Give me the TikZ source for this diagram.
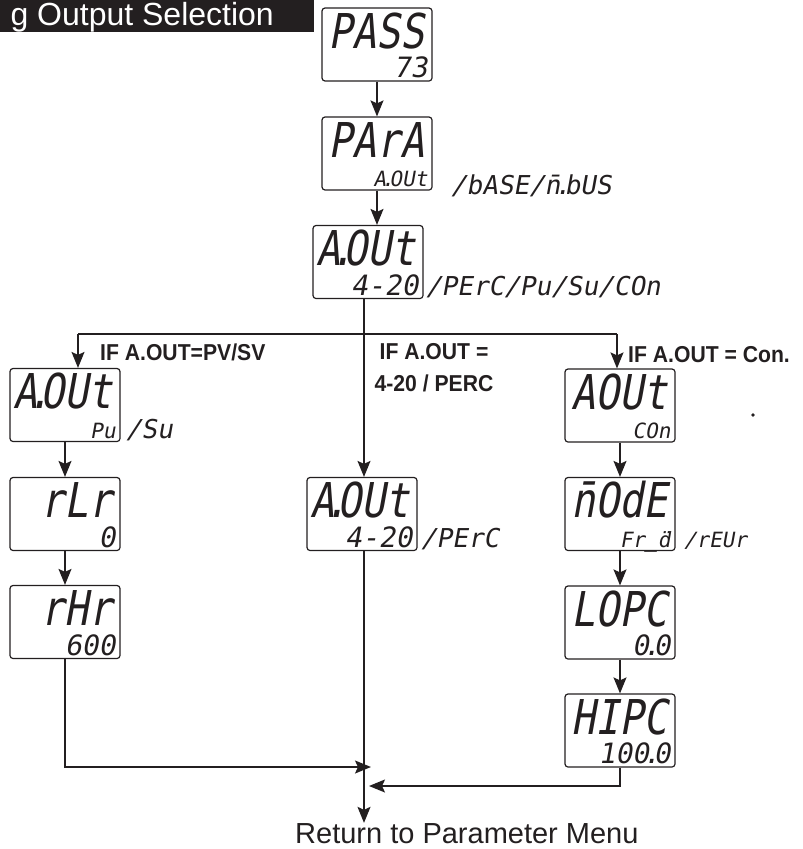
\documentclass[tikz,border=0pt]{standalone}
\usepackage{fontspec}
\setmainfont{Liberation Sans}
\newfontfamily\segfont[FakeSlant=0.18,FakeStretch=0.83]{DejaVu Sans Mono}
\newfontfamily\segwidefont[FakeSlant=0.18]{DejaVu Sans Mono}
\newfontfamily\condfont[FakeStretch=0.92]{Liberation Sans Bold}
\usetikzlibrary{arrows.meta}
\definecolor{ink}{HTML}{231F20}
\tikzset{
    menu diagram/.style = {x=1pt, y=-1pt,
                           >={Stealth[length=16pt,width=13pt,inset=3pt]}},
    line/.style         = {draw=ink, line width=1.4pt},
    display/.style      = {draw=ink, line width=1.2pt, rounded corners=3pt,
                           minimum width=110pt, minimum height=73pt, inner sep=0pt},
    seg big/.style      = {inner sep=0pt, text=ink,
                           font=\segfont\fontsize{48}{48}\selectfont},
    seg small/.style    = {inner sep=0pt, text=ink,
                           font=\segwidefont\fontsize{28}{28}\selectfont},
    seg trail/.style    = {inner sep=0pt, text=ink,
                           font=\segwidefont\fontsize{26}{26}\selectfont},
    cond/.style         = {inner sep=0pt, text=ink,
                           font=\condfont\fontsize{23}{32}\selectfont},
    heading/.style      = {inner sep=0pt, text=white, font=\fontsize{32}{32}\selectfont}
}
% seven segment helpers
\newcommand\sdot{\kern-.22em.\kern-.22em\relax}
\newcommand\segword{\fontsize{21}{21}\selectfont}
\newcommand\segdisplay[4]{%
    \node[display] (#1) at (#2) {};
    \node[seg big,anchor=base east] (#1 top) at ([shift={(-8,41)}]#1.north east) {#3};
    \node[seg small,anchor=base east] (#1 bottom) at ([shift={(-5,-4)}]#1.south east) {#4};
}

\begin{document}
\begin{tikzpicture}[menu diagram]
\useasboundingbox (0,0) rectangle (803,849);

\fill[ink] (0,0) rectangle (314,32);
\node[heading,anchor=base east] (title) at (274,25.5) {g Output Selection};

\segdisplay{pass}{377,44.5}{PASS}{73}
\segdisplay{para}{377,153.5}{PArA}{\segword A\sdot OUt}
\segdisplay{aout}{368,262}{A\sdot OUt}{4-20}
\node[seg trail,anchor=base west] (para trail) at ([shift={(18,4)}]para.south east) {/bASE/n^^^^0304\sdot bUS};
\node[seg trail,anchor=base west] (aout trail) at ([shift={(2,-4)}]aout.south east) {/PErC/Pu/Su/COn};
\draw[line,->] (pass) -- (para);
\draw[line,->] (para.south) -- (para.south |- aout.north);

% three branches
\segdisplay{pvsv}{65,405}{A\sdot OUt}{\segword Pu}
\segdisplay{rlr}{65,514}{rLr}{0}
\segdisplay{rhr}{65,622}{rHr}{600}
\node[seg trail,anchor=base west] (pvsv trail) at ([shift={(5,-4)}]pvsv.south east) {/Su};

\segdisplay{linear}{362,514}{A\sdot OUt}{4-20}
\node[seg trail,anchor=base west] (linear trail) at ([shift={(3,-4)}]linear.south east) {/PErC};

\segdisplay{ctrl}{620,405.5}{AOUt}{\segword COn}
\segdisplay{mode}{620,514}{n^^^^0304OdE}{\segword Fr\_^^^^0308d}
\segdisplay{lopc}{620,622.5}{LOPC}{0\sdot 0}
\segdisplay{hipc}{620,730.5}{HIPC}{100\sdot 0}
\node[seg trail,anchor=base west] (mode trail) at ([shift={(8,-4)}]mode.south east) {\segword /rEUr};
\node[fill=ink,circle,inner sep=1.3pt] (speck) at (753,415) {};

\node[cond,anchor=base west] (if pvsv) at (100,360) {IF A.OUT=PV/SV};
\node[cond,anchor=north,align=center] (if linear) at (434,343.5) {IF A.OUT =\\4-20 / PERC};
\node[cond,anchor=base west] (if ctrl) at (628,362) {IF A.OUT = Con.};

\coordinate (left fork) at (78,334);
\coordinate (right fork) at (617,334);
\draw[line] (left fork) -- (right fork);
\draw[line,->] (left fork) -- (left fork |- pvsv.north);
\draw[line,->] (right fork) -- (right fork |- ctrl.north);
\draw[line,->] ([xshift=-4pt]aout.south) -- ([xshift=-4pt]aout.south |- linear.north);

\foreach \from/\to in {pvsv/rlr,rlr/rhr,ctrl/mode,mode/lopc,lopc/hipc}
    \draw[line,->] (\from) -- (\to);

% back to the menu
\node[anchor=base west,inner sep=0pt,text=ink,font=\fontsize{29}{29}\selectfont] (return) at (295,843) {Return to Parameter Menu};
\coordinate (left join) at (371,767);
\coordinate (right join) at (369,786);
\draw[line,->] ([xshift=2pt]linear.south) -- ([xshift=2pt]linear.south |- return.north);
\draw[line,->] (rhr.south) |- (left join);
\draw[line,->] (hipc.south) |- (right join);
\end{tikzpicture}
\end{document}
